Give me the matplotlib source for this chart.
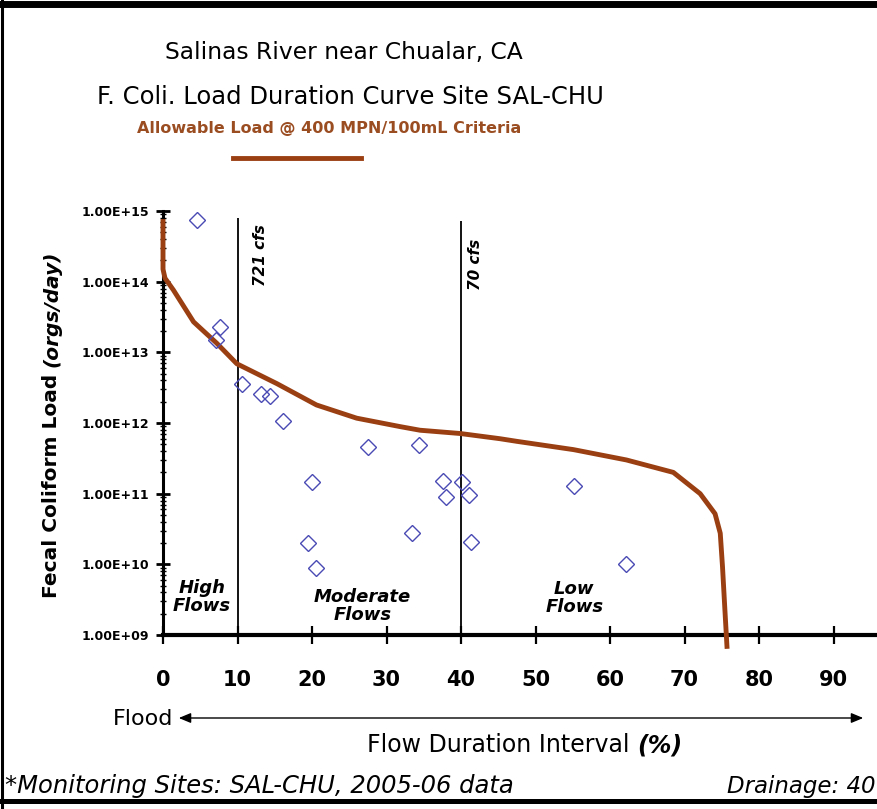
import matplotlib
matplotlib.use('Agg')
import matplotlib.pyplot as plt
from matplotlib.lines import Line2D
from matplotlib.patches import FancyArrowPatch
from matplotlib.ticker import LogLocator, FuncFormatter, NullFormatter
import numpy as np

# allowable load curve (400 MPN/100mL)
curve_pct = [0, 0, 0.27, 1.4, 4.1, 7.2, 9.9, 15.3, 20.6, 26.0, 31.8, 34.5, 39.9, 45.2,
             47.5, 55.1, 62.2, 68.5, 72.1, 74.1, 74.8, 75.1, 75.4, 75.7]
curve_load = [7.1e14, 1.5e14, 1.12e14, 7.6e13, 2.7e13, 1.35e13, 6.9e12, 3.6e12, 1.8e12,
              1.17e12, 8.9e11, 7.9e11, 7.1e11, 6.0e11, 5.5e11, 4.2e11, 3.0e11, 2.0e11,
              1.0e11, 5.2e10, 2.75e10, 9.3e9, 2.5e9, 6.9e8]

# monitoring samples SAL-CHU 2005-06
obs_pct = [4.5, 7.65, 7.1, 10.56, 13.15, 14.36, 16.07, 27.5, 34.4, 19.95,
           37.6, 40.1, 38.0, 41.1, 19.4, 20.6, 33.4, 41.4, 55.2, 62.1]
obs_load = [7.5e14, 2.3e13, 1.5e13, 3.6e12, 2.6e12, 2.4e12, 1.07e12, 4.6e11, 4.9e11, 1.45e11,
            1.5e11, 1.45e11, 9.0e10, 9.5e10, 2.0e10, 9.0e9, 2.75e10, 2.1e10, 1.3e11, 1.0e10]

flow_lines = [10, 40]
flow_tops = [8.0e14, 7.2e14]
flow_labels = ['721 cfs', '70 cfs']
flow_lab_pct = [13.1, 41.9]
flow_lab_load = [10**14.38, 10**14.24]

zones = ['High\nFlows', 'Moderate\nFlows', 'Low\nFlows']
zone_pct = [5.2, 26.8, 55.2]
zone_load = [3.5e9, 2.6e9, 3.3e9]

xticks = list(range(0, 100, 10))

W, H = 877, 809
brown = '#9a3f12'


def fxy(x, y):
    # pixel position (from top-left) -> figure fraction
    return x / W, 1 - y / H


fig = plt.figure(figsize=(W / 100, H / 100), dpi=100)
ax = fig.add_axes([163 / W, 1 - 635 / H, 745 / W, (635 - 211) / H])
r = fig.canvas.get_renderer()

ax.plot(curve_pct, curve_load, color=brown, lw=3.5, clip_on=False, zorder=3)
ax.plot(obs_pct, obs_load, 'D', ms=8.5, mfc='none', mec='#4a4ab4', mew=1.0, zorder=4)

for xv, top in zip(flow_lines, flow_tops):
    ax.vlines(xv, 1e9, top, color='black', lw=1.3, zorder=2)
for lab, xv, yv in zip(flow_labels, flow_lab_pct, flow_lab_load):
    ax.text(xv, yv, lab, rotation=90, ha='center', va='center',
            fontsize=11, fontweight='bold', style='italic')

for lab, xv, yv in zip(zones, zone_pct, zone_load):
    ax.text(xv, yv, lab, ha='center', va='center', fontsize=13, fontweight='bold',
            style='italic', linespacing=1.0)

ax.set_yscale('log')
ax.set_xlim(0, 100)
ax.set_ylim(1e9, 1e15)
ax.set_xticks(xticks)
ax.yaxis.set_major_locator(LogLocator(base=10, numticks=10))
ax.yaxis.set_minor_locator(LogLocator(base=10, subs=np.arange(2, 10), numticks=20))
ax.yaxis.set_major_formatter(FuncFormatter(lambda v, p: f'{v:.2E}'))
ax.yaxis.set_minor_formatter(NullFormatter())

ax.spines['top'].set_visible(False)
ax.spines['right'].set_visible(False)
ax.spines['left'].set_linewidth(2.2)
ax.spines['bottom'].set_linewidth(3)
ax.tick_params(axis='x', direction='inout', length=13, width=1.6, pad=19)
ax.tick_params(axis='y', which='major', direction='inout', length=10, width=2, pad=5)
ax.tick_params(axis='y', which='minor', direction='inout', length=5, width=1)
for t in ax.get_xticklabels():
    t.set_fontsize(15)
    t.set_fontweight('bold')
for t in ax.get_yticklabels():
    t.set_fontsize(9)
    t.set_fontweight('bold')

# y label: bold, units in bold italic right after it
x0, y0 = fxy(52, 598)
t1 = fig.text(x0, y0, 'Fecal Coliform Load', rotation=90, ha='center', va='bottom',
              fontsize=14.5, fontweight='bold')
bb = t1.get_window_extent(r)
fig.text(x0, (bb.y1 + 7) / H, '(orgs/day)', rotation=90, ha='center', va='bottom',
         fontsize=14.5, fontweight='bold', style='italic')

# titles and legend
x0, y0 = fxy(344, 52)
fig.text(x0, y0, 'Salinas River near Chualar, CA', ha='center', va='center', fontsize=16.8)
x0, y0 = fxy(350, 97)
fig.text(x0, y0, 'F. Coli. Load Duration Curve Site SAL-CHU', ha='center', va='center',
         fontsize=17.5)
x0, y0 = fxy(329, 129)
fig.text(x0, y0, 'Allowable Load @ 400 MPN/100mL Criteria', ha='center', va='center',
         fontsize=11.5, fontweight='bold', color='#9b4d22')
fig.add_artist(Line2D([233 / W, 361 / W], [1 - 158 / H] * 2, color=brown, lw=3.5))

# x label with flood arrow
x0, y0 = fxy(173, 719)
fig.text(x0, y0, 'Flood', ha='right', va='center', fontsize=16)
fig.add_artist(FancyArrowPatch(fxy(176, 718), fxy(866, 718), transform=fig.transFigure,
                               arrowstyle='<|-|>,head_length=0.6,head_width=0.25',
                               mutation_scale=12, lw=1, color='black'))
x0, y0 = fxy(367, 745)
t2 = fig.text(x0, y0, 'Flow Duration Interval', ha='left', va='center', fontsize=17)
bb = t2.get_window_extent(r)
fig.text((bb.x1 + 8) / W, y0, '(%)', ha='left', va='center', fontsize=17,
         fontweight='bold', style='italic')

# footer
x0, y0 = fxy(5, 786)
fig.text(x0, y0, '*Monitoring Sites: SAL-CHU, 2005-06 data', ha='left', va='center',
         fontsize=17.5, style='italic')
x0, y0 = fxy(727, 786)
fig.text(x0, y0, 'Drainage: 40', ha='left', va='center', fontsize=16.5, style='italic')

# frame around the picture
fig.add_artist(Line2D([0, 1], [1 - 3.5 / H] * 2, color='black', lw=5))
fig.add_artist(Line2D([1.5 / W] * 2, [0, 1], color='black', lw=2.2))
fig.add_artist(Line2D([0, 1], [1 - 801 / H] * 2, color='black', lw=3.6))

fig.savefig('out.png', dpi=100)
